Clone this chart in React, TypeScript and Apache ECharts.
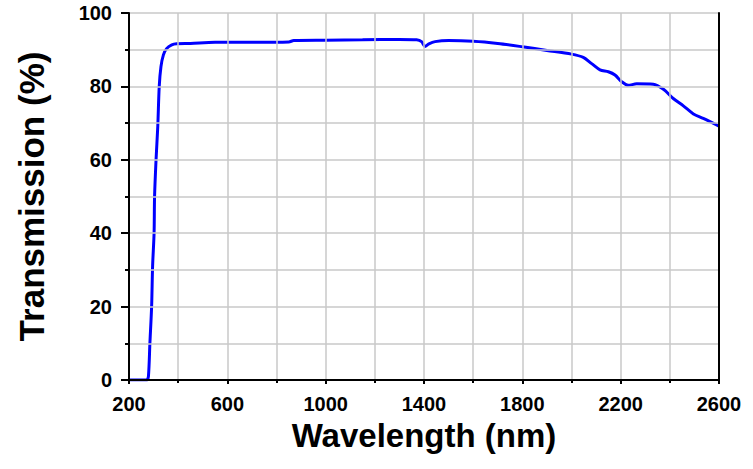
import React, { useEffect, useRef } from "react";
import * as echarts from "echarts";

const wavelengths = [
  200, 250, 272, 279, 285, 292, 296, 302, 304, 310, 317, 323, 330, 340, 353, 374, 394,
  450, 550, 700, 850, 870, 1000, 1150, 1300, 1370, 1390, 1404, 1420, 1445, 1500, 1600,
  1700, 1800, 1900, 2000, 2048, 2082, 2116, 2150, 2177, 2204, 2231, 2265, 2333, 2374,
  2414, 2455, 2496, 2536, 2600,
];
const transmission = [
  0, 0, 0, 1, 10, 20, 31, 40, 50, 60, 69, 80, 85.4, 88.6, 90.3, 91.3, 91.6,
  91.7, 92.0, 92.0, 92.1, 92.5, 92.6, 92.7, 92.8, 92.7, 92.2, 90.9, 91.6, 92.2, 92.5, 92.3,
  91.7, 90.8, 89.8, 88.8, 87.9, 86.2, 84.5, 84.0, 83.1, 81.3, 80.3, 80.7, 80.6, 79.2,
  76.7, 74.7, 72.5, 71.3, 69.2,
];
const xTicks = { min: 200, max: 2600, interval: 400 };
const yTicks = { min: 0, max: 100, interval: 20 };

const FONT = 'Arial, "Liberation Sans", sans-serif';

export default function App() {
  const ref = useRef<HTMLDivElement>(null);
  useEffect(() => {
    if (!ref.current) return;
    const chart = echarts.init(ref.current, null, { renderer: "svg" });
    const gridLine = { show: true, lineStyle: { color: "#c8c8c8", width: 1.5 } };
    chart.setOption({
      animation: false,
      backgroundColor: "#ffffff",
      grid: { left: 129, right: 34, top: 13, bottom: 89, containLabel: false },
      xAxis: [
        {
          type: "value",
          min: xTicks.min,
          max: xTicks.max,
          interval: xTicks.interval,
          name: "Wavelength (nm)",
          nameLocation: "middle",
          nameGap: 39,
          nameTextStyle: { fontFamily: FONT, fontWeight: "bold", fontSize: 33, color: "#000" },
          axisLine: { show: true, lineStyle: { color: "#000", width: 2 } },
          axisTick: { show: true, length: 4, lineStyle: { color: "#000", width: 2 } },
          minorTick: { show: true, splitNumber: 2, length: 3, lineStyle: { color: "#000", width: 2 } },
          splitLine: gridLine,
          minorSplitLine: gridLine,
          axisLabel: {
            fontFamily: FONT,
            fontWeight: "bold",
            fontSize: 20,
            color: "#000",
            margin: 14,
            formatter: (v: number) => String(v),
          },
          z: 5,
        },
        {
          type: "value",
          position: "top",
          min: xTicks.min,
          max: xTicks.max,
          axisLine: { show: true, lineStyle: { color: "#000", width: 2 } },
          axisTick: { show: false },
          axisLabel: { show: false },
          splitLine: { show: false },
          z: 5,
        },
      ],
      yAxis: [
        {
          type: "value",
          min: yTicks.min,
          max: yTicks.max,
          interval: yTicks.interval,
          name: "Transmission (%)",
          nameLocation: "middle",
          nameGap: 80,
          nameTextStyle: { fontFamily: FONT, fontWeight: "bold", fontSize: 35, color: "#000" },
          axisLine: { show: true, lineStyle: { color: "#000", width: 2 } },
          axisTick: { show: true, length: 8, lineStyle: { color: "#000", width: 2 } },
          minorTick: { show: true, splitNumber: 2, length: 4, lineStyle: { color: "#000", width: 2 } },
          splitLine: gridLine,
          minorSplitLine: gridLine,
          axisLabel: {
            fontFamily: FONT,
            fontWeight: "bold",
            fontSize: 20,
            color: "#000",
            margin: 17,
            formatter: (v: number) => String(v),
          },
          z: 5,
        },
        {
          type: "value",
          position: "right",
          min: yTicks.min,
          max: yTicks.max,
          axisLine: { show: true, lineStyle: { color: "#000", width: 2 } },
          axisTick: { show: false },
          axisLabel: { show: false },
          splitLine: { show: false },
          z: 5,
        },
      ],
      series: [
        {
          type: "line",
          xAxisIndex: 0,
          yAxisIndex: 0,
          data: wavelengths.map((w, i) => [w, transmission[i]]),
          showSymbol: false,
          symbol: "none",
          smooth: 0.3,
          lineStyle: { color: "#0000ff", width: 3 },
          z: 4,
        },
      ],
    });
    return () => chart.dispose();
  }, []);
  return (
    <div
      ref={ref}
      style={{ position: "fixed", left: 0, top: 0, width: 753, height: 469 }}
    />
  );
}
